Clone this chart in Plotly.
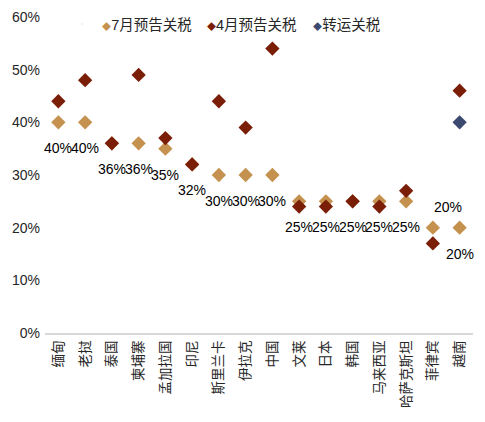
import plotly.graph_objects as go

countries = ['缅甸', '老挝', '泰国', '柬埔寨', '孟加拉国', '印尼', '斯里兰卡', '伊拉克',
             '中国', '文莱', '日本', '韩国', '马来西亚', '哈萨克斯坦', '菲律宾', '越南']
july_tariff = [40, 40, 36, 36, 35, 32, 30, 30, 30, 25, 25, 25, 25, 25, 20, 20]
april_tariff = [44, 48, 36, 49, 37, 32, 44, 39, 54, 24, 24, 25, 24, 27, 17, 46]
transit_country = ['越南']
transit_tariff = [40]

TAN = '#C4914E'
RED = '#7A1E08'
NAVY = '#3D4A6F'
FONT = 'Arial, Liberation Sans, Noto Sans CJK SC'

fig = go.Figure()

fig.add_trace(go.Scatter(x=countries, y=july_tariff, mode='markers',
                         marker=dict(symbol='diamond', size=11, color=TAN),
                         showlegend=False, cliponaxis=False))
fig.add_trace(go.Scatter(x=countries, y=april_tariff, mode='markers',
                         marker=dict(symbol='diamond', size=11, color=RED),
                         showlegend=False, cliponaxis=False))
fig.add_trace(go.Scatter(x=transit_country, y=transit_tariff, mode='markers',
                         marker=dict(symbol='diamond', size=11, color=NAVY),
                         showlegend=False, cliponaxis=False))

# legend entries: one legend each so they can be placed like the excel ones,
# with a small diamond glyph sitting right against the text
legend_items = [('7月预告关税', TAN, 'legend', 0.040),
                ('4月预告关税', RED, 'legend2', 0.285),
                ('转运关税', NAVY, 'legend3', 0.533)]
for name, col, lg, _ in legend_items:
    label = f'<span style="color:{col};font-size:9px">◆</span>{name}'
    fig.add_trace(go.Scatter(x=[None], y=[None], mode='markers', name=label,
                             legend=lg, marker=dict(size=1, opacity=0, color=col)))

# data labels for the july series, below the marker; philippines nudged up-right
for c, v in zip(countries, july_tariff):
    if c == '菲律宾':
        xs, ys = 15, 21
    else:
        xs, ys = 0, -26
    fig.add_annotation(x=c, y=v, text=f'{v}%', showarrow=False,
                       xshift=xs, yshift=ys,
                       font=dict(size=14, color='#000000', family=FONT))

legend_style = dict(orientation='h', y=1, xanchor='left', yanchor='top',
                    font=dict(size=14.5, color='#262626'), bgcolor='rgba(0,0,0,0)',
                    itemwidth=30)

# the page body adds an 8px offset, so margins are set 8px tighter on top/left
fig.update_layout(
    width=485, height=422,
    margin=dict(l=37, r=20, t=0, b=97),
    plot_bgcolor='white', paper_bgcolor='white',
    font=dict(family=FONT, size=14, color='#262626'),
    xaxis=dict(type='category', categoryorder='array', categoryarray=countries,
               range=[-0.5, len(countries) - 0.5], tickangle=-90, automargin=False,
               showline=True, linecolor='#D9D9D9', linewidth=2,
               showgrid=False, ticks='', tickfont=dict(size=13.5)),
    yaxis=dict(range=[0, 61.7], tick0=0, dtick=10, ticksuffix='%',
               showgrid=False, automargin=False,
               zeroline=False, showline=False, ticks='', ticklabelstandoff=4,
               tickfont=dict(size=14)),
)
for name, col, lg, xpos in legend_items:
    fig.update_layout({lg: dict(legend_style, x=xpos)})

fig.write_html('out.html')
